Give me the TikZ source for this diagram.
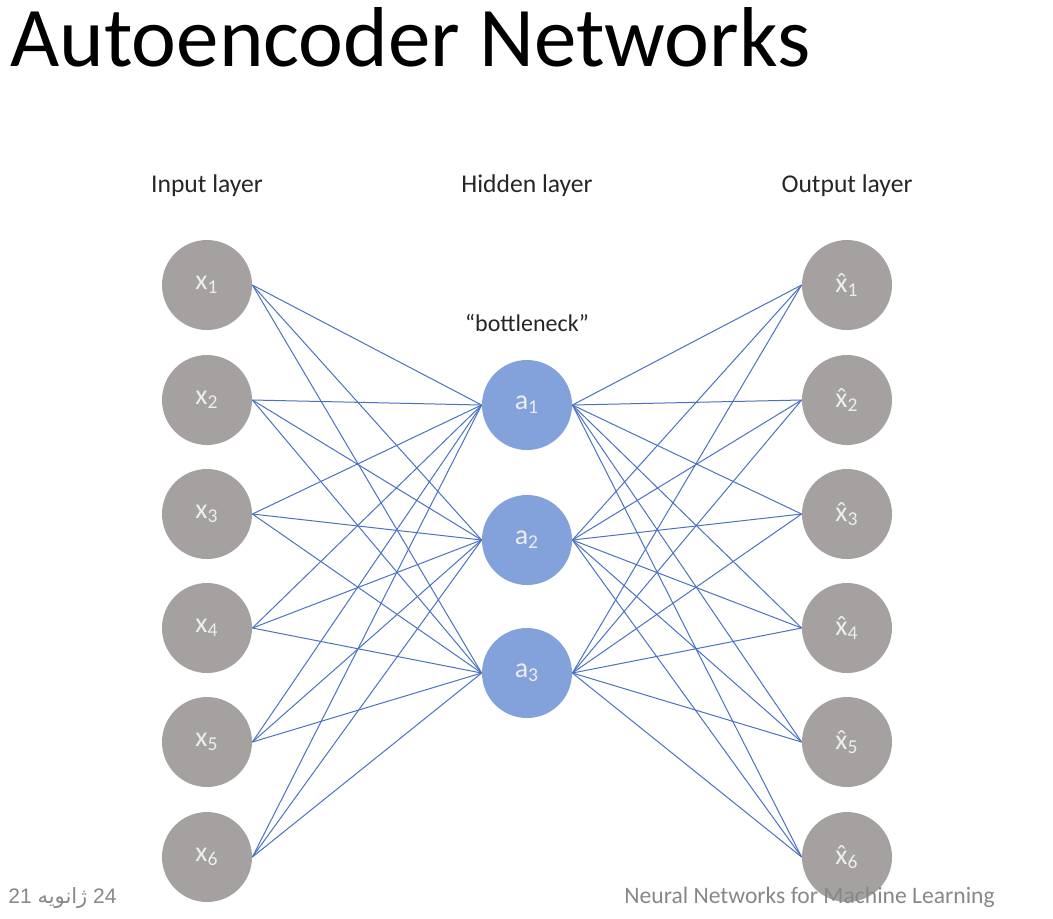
\documentclass[tikz,border=0pt]{standalone}
\usepackage{fontspec}
\setmainfont{Carlito}
\newfontfamily\arabicfont[Script=Arabic]{DejaVu Sans}
\newfontfamily\footfont{Liberation Sans}
\TeXXeTstate=1
\definecolor{nodegray}{HTML}{A6A1A1}
\definecolor{nodeblue}{HTML}{83A1DA}
\definecolor{edgeblue}{HTML}{4A72C4}
\definecolor{labelwhite}{HTML}{EDEDED}
\definecolor{footgray}{HTML}{888888}
\newcommand{\hatx}{\accent"02C6 x}
\tikzset{
  neuron/.style={circle, minimum size=45pt, inner sep=0pt, font=\fontsize{14}{16}\selectfont, text=labelwhite},
  inneuron/.style={neuron, fill=nodegray},
  hidneuron/.style={neuron, fill=nodeblue},
  conn/.style={draw=edgeblue, line width=0.5pt},
  layerlabel/.style={font=\fontsize{12.8}{15}\selectfont, text=black!85},
  foottext/.style={anchor=base west, inner sep=0pt, text=footgray},
}
\begin{document}
\begin{tikzpicture}[x=0.5pt,y=-0.5pt]
\useasboundingbox (0,0) rectangle (1053,918);
\fill[white] (0,0) rectangle (1053,918);
\node[anchor=base west, inner sep=0pt, font=\fontsize{42.5}{50}\selectfont] (title) at (10,66) {Autoencoder Networks};
\node[layerlabel] (lin) at (207,186) {Input layer};
\node[layerlabel] (lhid) at (527,186) {Hidden layer};
\node[layerlabel] (lout) at (847,186) {Output layer};
\node[font=\fontsize{12}{14}\selectfont, text=black!85] (lbn) at (527,323) {“bottleneck”};
\foreach \i/\y in {1/285,2/400,3/514,4/628,5/742,6/857}{
  \node[inneuron] (i\i) at (207,\y) {x\textsubscript{\i}};
  \node[inneuron] (o\i) at (847,\y) {\hatx\textsubscript{\i}};
}
\foreach \j/\y in {1/405,2/540,3/673}{
  \node[hidneuron] (h\j) at (527,\y) {a\textsubscript{\j}};
}
\foreach \i in {1,...,6}{
  \foreach \j in {1,2,3}{
    \draw[conn] (i\i.east) -- (h\j.west);
    \draw[conn] (h\j.east) -- (o\i.west);
  }
}
\node[foottext, font=\footfont\fontsize{10.5}{12}\selectfont] (date) at (8,903) {21 {\arabicfont\beginR ژانویه\endR} 24};
\node[foottext, font=\fontsize{11.8}{13}\selectfont] (foot) at (624,903) {Neural Networks for Machine Learning};
\end{tikzpicture}
\end{document}
